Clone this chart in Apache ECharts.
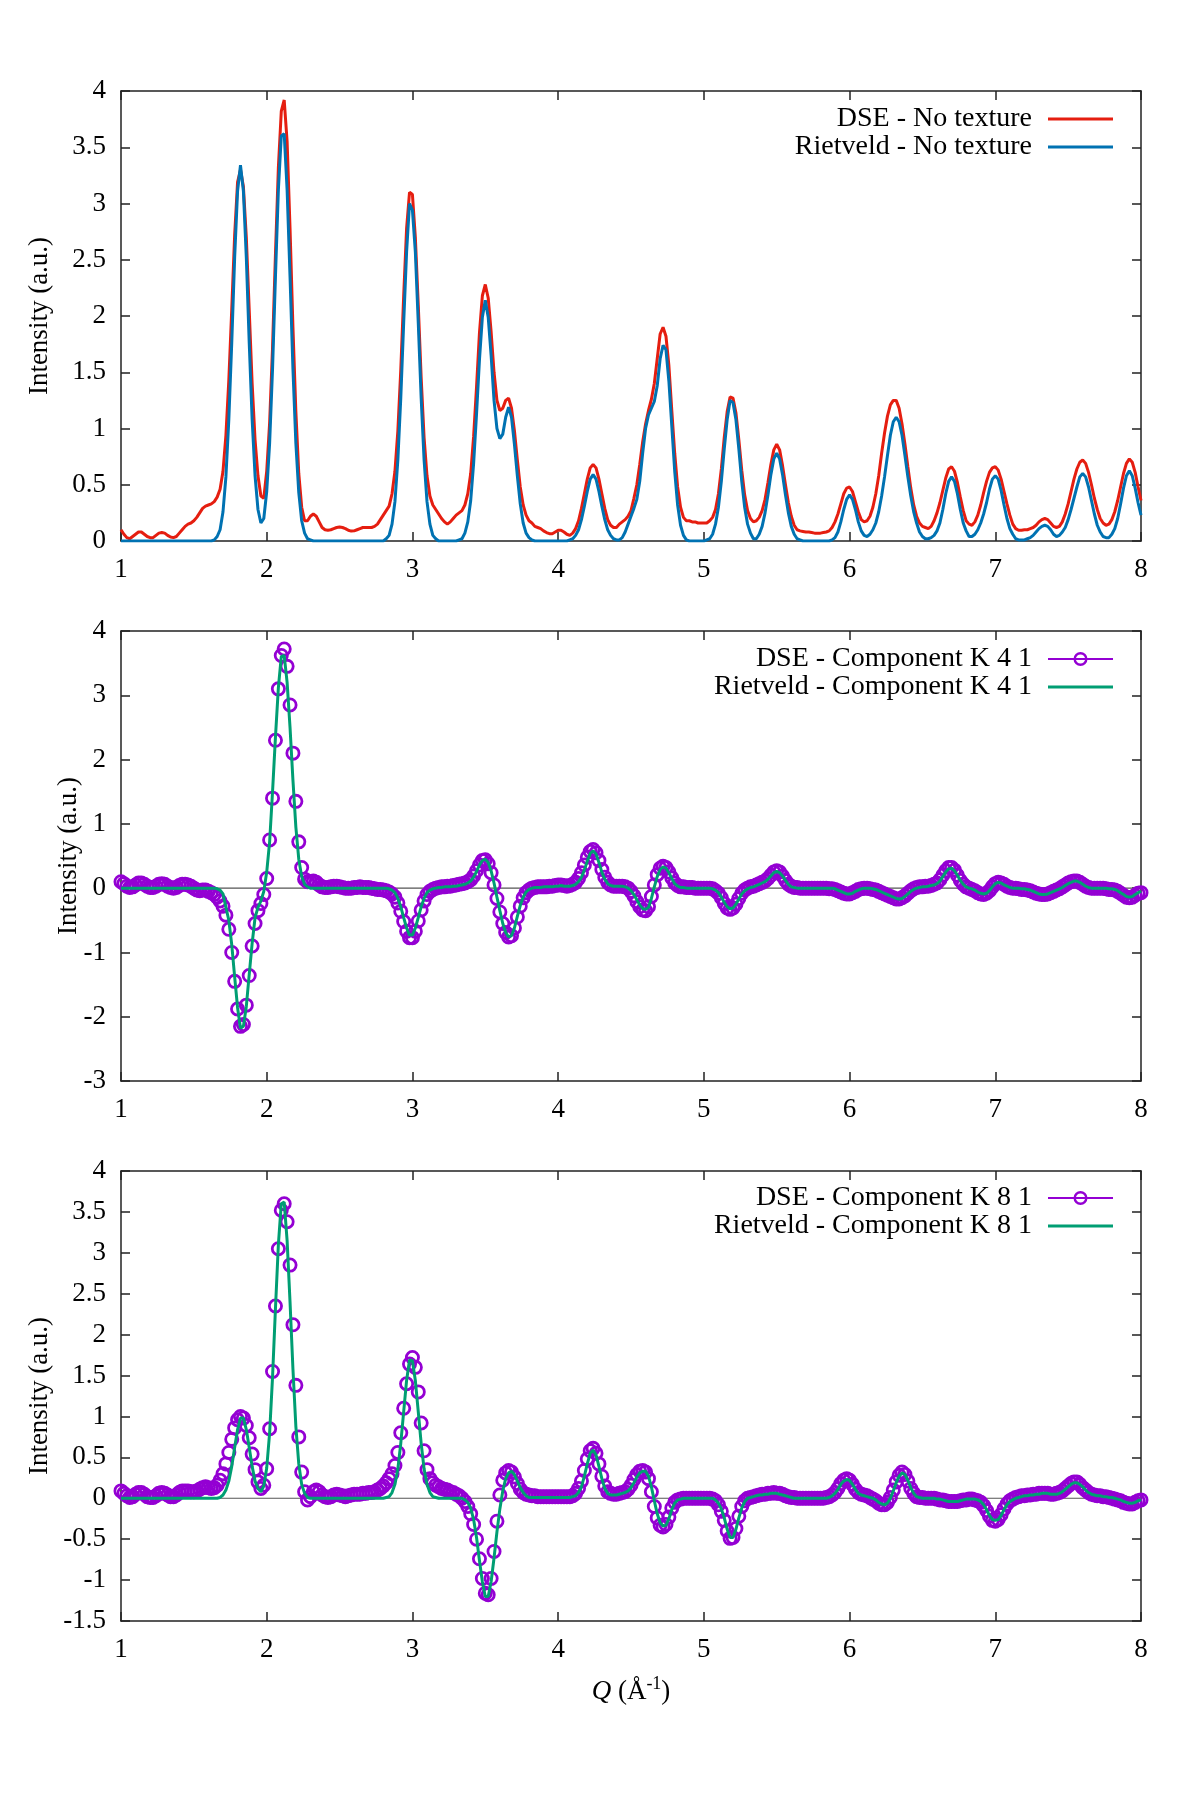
<!DOCTYPE html>
<html>
<head>
<meta charset="utf-8">
<title>DSE vs Rietveld components</title>
<script src="https://cdn.jsdelivr.net/npm/echarts@6/dist/echarts.min.js"></script>
<style>
  html, body { margin: 0; padding: 0; background: #fff; }
  #chart { width: 1200px; height: 1800px; }
</style>
</head>
<body>
<div id="chart"></div>
<script>
// Q grid: 1.00 .. 8.00 sampled every 0.02 (351 points per curve)
const qStart = 1.0;
const qStep = 0.02;

// ---- top panel: no texture ----
const dseNoTexture = [
  0.10,0.06,0.03,0.02,0.04,0.06,0.08,0.08,0.06,0.04,
  0.03,0.03,0.05,0.07,0.075,0.07,0.05,0.035,0.03,0.04,
  0.07,0.10,0.13,0.15,0.16,0.18,0.21,0.25,0.29,0.31,
  0.32,0.33,0.35,0.39,0.46,0.62,0.94,1.43,2.06,2.72,
  3.19,3.30,3.15,2.70,2.05,1.40,0.90,0.58,0.40,0.38,
  0.62,1.05,1.72,2.55,3.32,3.82,3.92,3.55,2.78,1.90,
  1.15,0.60,0.30,0.18,0.18,0.22,0.24,0.22,0.17,0.12,
  0.10,0.095,0.10,0.11,0.12,0.125,0.12,0.11,0.095,0.088,
  0.09,0.10,0.11,0.12,0.12,0.12,0.12,0.13,0.15,0.19,
  0.23,0.27,0.31,0.42,0.62,0.98,1.52,2.18,2.78,3.10,
  3.08,2.70,2.10,1.45,0.92,0.58,0.40,0.32,0.28,0.24,
  0.20,0.17,0.15,0.17,0.20,0.23,0.25,0.27,0.32,0.42,
  0.60,0.93,1.37,1.85,2.18,2.28,2.16,1.86,1.50,1.25,
  1.16,1.18,1.25,1.27,1.18,0.98,0.72,0.48,0.32,0.23,
  0.18,0.16,0.13,0.12,0.11,0.09,0.075,0.065,0.065,0.08,
  0.095,0.095,0.08,0.06,0.05,0.07,0.11,0.18,0.29,0.42,
  0.55,0.65,0.68,0.65,0.55,0.42,0.29,0.19,0.14,0.12,
  0.12,0.15,0.17,0.19,0.22,0.27,0.38,0.50,0.68,0.88,
  1.04,1.16,1.26,1.40,1.62,1.84,1.90,1.82,1.56,1.16,
  0.78,0.48,0.30,0.21,0.18,0.18,0.17,0.17,0.16,0.16,
  0.16,0.16,0.18,0.21,0.28,0.42,0.64,0.92,1.15,1.28,
  1.27,1.14,0.90,0.63,0.41,0.27,0.20,0.17,0.18,0.21,
  0.27,0.37,0.52,0.68,0.81,0.86,0.81,0.67,0.50,0.34,
  0.22,0.14,0.10,0.09,0.085,0.08,0.08,0.075,0.07,0.07,
  0.07,0.075,0.08,0.09,0.12,0.17,0.24,0.33,0.42,0.47,
  0.48,0.44,0.35,0.26,0.19,0.17,0.18,0.22,0.30,0.42,
  0.58,0.78,0.96,1.11,1.21,1.25,1.25,1.18,1.04,0.86,
  0.66,0.47,0.32,0.22,0.16,0.13,0.12,0.11,0.13,0.18,
  0.25,0.34,0.45,0.56,0.64,0.66,0.62,0.52,0.39,0.27,
  0.18,0.15,0.14,0.17,0.23,0.32,0.43,0.53,0.61,0.65,
  0.66,0.63,0.55,0.44,0.33,0.23,0.15,0.11,0.095,0.095,
  0.10,0.10,0.11,0.12,0.14,0.17,0.19,0.20,0.19,0.16,
  0.13,0.12,0.13,0.17,0.24,0.33,0.44,0.55,0.64,0.70,
  0.72,0.69,0.61,0.50,0.38,0.28,0.20,0.16,0.14,0.15,
  0.19,0.26,0.36,0.48,0.60,0.69,0.73,0.70,0.61,0.48,
  0.36
];

const rietveldNoTexture = [
  0,0,0,0,0,0,0,0,0,0,
  0,0,0,0,0,0,0,0,0,0,
  0,0,0,0,0,0,0,0,0,0,
  0,0,0.01,0.04,0.10,0.26,0.57,1.08,1.76,2.52,
  3.11,3.34,3.11,2.52,1.76,1.08,0.58,0.28,0.16,0.20,
  0.44,0.87,1.53,2.35,3.12,3.60,3.62,3.12,2.35,1.53,
  0.87,0.43,0.18,0.07,0.02,0.01,0,0,0,0,
  0,0,0,0,0,0,0,0,0,0,
  0,0,0,0,0,0,0,0,0,0,
  0,0.02,0.05,0.15,0.35,0.72,1.27,1.94,2.57,3.00,
  2.94,2.57,1.94,1.27,0.72,0.35,0.15,0.05,0.02,0,
  0,0,0,0,0,0,0.01,0.02,0.07,0.17,
  0.36,0.69,1.13,1.61,1.99,2.14,1.99,1.65,1.25,1.00,
  0.91,0.95,1.10,1.19,1.10,0.86,0.58,0.33,0.16,0.07,
  0.03,0.01,0,0,0,0,0,0,0,0,
  0,0,0,0,0.01,0.02,0.05,0.10,0.19,0.31,
  0.44,0.55,0.59,0.55,0.44,0.31,0.19,0.10,0.05,0.02,
  0.01,0.01,0.03,0.08,0.15,0.22,0.29,0.37,0.53,0.78,
  1.00,1.12,1.18,1.24,1.38,1.62,1.74,1.70,1.42,1.02,
  0.62,0.32,0.14,0.05,0.01,0,0,0,0,0,
  0,0.01,0.02,0.06,0.15,0.30,0.53,0.82,1.08,1.25,
  1.23,1.08,0.82,0.53,0.30,0.15,0.07,0.02,0.02,0.06,
  0.13,0.25,0.41,0.59,0.73,0.78,0.73,0.59,0.41,0.25,
  0.13,0.06,0.02,0.01,0,0,0,0,0,0,
  0,0,0,0,0.01,0.03,0.08,0.17,0.28,0.37,
  0.41,0.37,0.28,0.17,0.09,0.05,0.04,0.06,0.10,0.16,
  0.26,0.40,0.57,0.76,0.94,1.06,1.10,1.06,0.94,0.76,
  0.57,0.40,0.26,0.16,0.08,0.04,0.02,0.02,0.03,0.05,
  0.09,0.16,0.28,0.42,0.53,0.57,0.53,0.42,0.28,0.16,
  0.09,0.04,0.04,0.06,0.10,0.16,0.24,0.34,0.46,0.55,
  0.58,0.55,0.45,0.32,0.20,0.11,0.06,0.02,0.01,0.01,
  0.01,0.02,0.03,0.05,0.08,0.11,0.13,0.14,0.13,0.10,
  0.06,0.04,0.05,0.08,0.12,0.19,0.28,0.38,0.48,0.57,
  0.60,0.57,0.48,0.36,0.24,0.14,0.08,0.04,0.03,0.03,
  0.06,0.11,0.20,0.33,0.47,0.58,0.625,0.58,0.47,0.34,
  0.23
];

// ---- middle panel: component K 4 1 ----
const dseK41 = [
  0.10,0.07,0.03,0.01,0.02,0.05,0.08,0.08,0.06,0.03,
  0.01,0.01,0.03,0.06,0.07,0.06,0.03,0.01,0,0.01,
  0.04,0.06,0.06,0.05,0.03,0,-0.03,-0.04,-0.03,-0.03,
  -0.05,-0.07,-0.10,-0.14,-0.20,-0.28,-0.42,-0.64,-1.00,-1.45,
  -1.88,-2.15,-2.12,-1.82,-1.36,-0.90,-0.55,-0.35,-0.24,-0.10,
  0.15,0.75,1.40,2.30,3.10,3.62,3.72,3.45,2.85,2.10,
  1.35,0.72,0.32,0.14,0.10,0.10,0.11,0.09,0.05,0.02,
  0.01,0.01,0.02,0.03,0.03,0.02,0.01,0,0,0,
  0.01,0.01,0.02,0.01,0.01,0.01,0,-0.01,-0.02,-0.02,
  -0.03,-0.04,-0.06,-0.09,-0.14,-0.23,-0.36,-0.52,-0.67,-0.77,
  -0.77,-0.67,-0.51,-0.34,-0.20,-0.10,-0.05,-0.02,0,0.01,
  0.02,0.02,0.03,0.03,0.04,0.05,0.06,0.07,0.08,0.10,
  0.13,0.19,0.27,0.36,0.43,0.44,0.38,0.24,0.05,-0.16,
  -0.37,-0.55,-0.69,-0.76,-0.74,-0.62,-0.45,-0.28,-0.15,-0.07,
  -0.03,0,0.01,0.02,0.02,0.02,0.02,0.03,0.03,0.04,
  0.05,0.05,0.04,0.03,0.04,0.06,0.09,0.15,0.24,0.36,
  0.48,0.57,0.60,0.55,0.43,0.29,0.17,0.09,0.05,0.03,
  0.03,0.03,0.03,0.02,0,-0.05,-0.12,-0.21,-0.29,-0.34,
  -0.35,-0.29,-0.13,0.05,0.21,0.31,0.34,0.32,0.25,0.16,
  0.08,0.04,0.02,0.02,0.01,0.01,0.01,0,0,0,
  0,0,0,-0.01,-0.04,-0.08,-0.15,-0.24,-0.31,-0.33,
  -0.31,-0.25,-0.16,-0.08,-0.03,0,0.02,0.03,0.05,0.07,
  0.09,0.11,0.15,0.20,0.25,0.27,0.25,0.19,0.12,0.06,
  0.03,0.01,0.01,0,0,0,0,0,0,0,
  0,0,0,-0.01,-0.01,-0.02,-0.04,-0.06,-0.08,-0.09,
  -0.09,-0.07,-0.05,-0.02,-0.01,0,0,-0.01,-0.02,-0.03,
  -0.05,-0.07,-0.09,-0.11,-0.13,-0.15,-0.17,-0.17,-0.15,-0.12,
  -0.08,-0.04,-0.01,0.01,0.02,0.02,0.03,0.03,0.04,0.06,
  0.08,0.13,0.20,0.27,0.32,0.32,0.28,0.20,0.12,0.06,
  0.02,0,-0.02,-0.04,-0.07,-0.09,-0.10,-0.08,-0.04,0.02,
  0.07,0.09,0.08,0.06,0.03,0.01,0,0,-0.01,-0.02,
  -0.02,-0.03,-0.04,-0.06,-0.08,-0.09,-0.10,-0.10,-0.09,-0.07,
  -0.05,-0.03,-0.01,0.02,0.05,0.08,0.10,0.11,0.11,0.09,
  0.06,0.03,0.01,0,0,0,0,0,-0.01,-0.02,
  -0.02,-0.03,-0.05,-0.08,-0.11,-0.14,-0.15,-0.14,-0.11,-0.08,
  -0.07
];

const rietveldK41 = [
  0,0,0,0,0,0,0,0,0,0,
  0,0,0,0,0,0,0,0,0,0,
  0,0,0,0,0,0,0,0,0,0,
  0,0,0,-0.01,-0.03,-0.09,-0.30,-0.50,-0.88,-1.38,
  -1.86,-2.18,-2.15,-1.84,-1.34,-0.86,-0.46,-0.30,-0.20,-0.05,
  0.25,0.72,1.50,2.35,3.12,3.60,3.62,3.20,2.50,1.68,
  0.95,0.45,0.18,0.06,0.02,0,0,0,0,0,
  0,0,0,0,0,0,0,0,0,0,
  0,0,0,0,0,0,0,0,0,0,
  0,0,-0.01,-0.03,-0.07,-0.16,-0.29,-0.46,-0.62,-0.73,
  -0.73,-0.62,-0.46,-0.29,-0.16,-0.07,-0.03,-0.01,0,0.01,
  0.01,0.02,0.02,0.02,0.03,0.03,0.04,0.05,0.06,0.08,
  0.11,0.17,0.26,0.36,0.43,0.45,0.40,0.27,0.08,-0.14,
  -0.35,-0.55,-0.69,-0.76,-0.74,-0.62,-0.44,-0.27,-0.14,-0.06,
  -0.02,0,0.01,0.01,0.01,0.02,0.02,0.02,0.02,0.03,
  0.03,0.04,0.03,0.03,0.03,0.04,0.06,0.10,0.17,0.28,
  0.42,0.54,0.58,0.53,0.40,0.25,0.14,0.07,0.04,0.03,
  0.03,0.03,0.03,0.02,0,-0.04,-0.10,-0.18,-0.26,-0.32,
  -0.33,-0.30,-0.16,0.02,0.18,0.29,0.33,0.31,0.24,0.15,
  0.07,0.03,0.01,0.01,0,0,0,0,0,0,
  0,0,0,-0.01,-0.03,-0.07,-0.14,-0.22,-0.29,-0.32,
  -0.31,-0.25,-0.17,-0.09,-0.04,-0.01,0.01,0.02,0.04,0.06,
  0.08,0.10,0.14,0.19,0.24,0.26,0.24,0.19,0.12,0.06,
  0.02,0.01,0,0,0,0,0,0,0,0,
  0,0,0,0,0,-0.01,-0.03,-0.05,-0.07,-0.09,
  -0.09,-0.08,-0.05,-0.03,-0.01,0,0,0,-0.01,-0.02,
  -0.04,-0.06,-0.08,-0.10,-0.12,-0.14,-0.16,-0.17,-0.16,-0.13,
  -0.09,-0.05,-0.02,0,0.01,0.02,0.02,0.03,0.04,0.05,
  0.07,0.11,0.18,0.25,0.30,0.31,0.27,0.20,0.12,0.06,
  0.02,0,-0.01,-0.03,-0.06,-0.08,-0.09,-0.08,-0.04,0.02,
  0.07,0.09,0.08,0.05,0.03,0.01,0,0,0,-0.01,
  -0.01,-0.02,-0.03,-0.05,-0.07,-0.09,-0.10,-0.10,-0.09,-0.07,
  -0.05,-0.03,-0.01,0.01,0.04,0.07,0.09,0.11,0.11,0.09,
  0.06,0.03,0.01,0,0,0,0,0,0,-0.01,
  -0.01,-0.02,-0.04,-0.07,-0.10,-0.13,-0.14,-0.13,-0.10,-0.07,
  -0.05
];

// ---- bottom panel: component K 8 1 ----
const dseK81 = [
  0.09,0.06,0.03,0.01,0.02,0.05,0.07,0.07,0.05,0.02,
  0.01,0.01,0.03,0.06,0.07,0.06,0.04,0.02,0.02,0.04,
  0.07,0.09,0.09,0.09,0.08,0.08,0.09,0.11,0.13,0.14,
  0.13,0.12,0.13,0.16,0.22,0.30,0.42,0.56,0.72,0.86,
  0.96,1.00,0.98,0.89,0.74,0.54,0.35,0.20,0.12,0.16,
  0.36,0.85,1.55,2.35,3.05,3.52,3.60,3.38,2.85,2.12,
  1.38,0.75,0.32,0.08,-0.02,0.02,0.08,0.10,0.08,0.04,
  0.02,0.01,0.02,0.04,0.05,0.04,0.03,0.02,0.03,0.04,
  0.05,0.05,0.05,0.06,0.06,0.07,0.07,0.08,0.10,0.12,
  0.15,0.19,0.24,0.30,0.40,0.56,0.80,1.10,1.40,1.64,
  1.72,1.60,1.30,0.92,0.58,0.35,0.24,0.19,0.16,0.14,
  0.12,0.11,0.10,0.08,0.07,0.05,0.03,0,-0.04,-0.10,
  -0.19,-0.32,-0.50,-0.74,-0.98,-1.16,-1.18,-0.98,-0.65,-0.28,
  0.04,0.22,0.31,0.34,0.32,0.26,0.18,0.11,0.07,0.05,
  0.04,0.03,0.03,0.02,0.02,0.02,0.02,0.02,0.02,0.02,
  0.02,0.02,0.02,0.02,0.02,0.03,0.06,0.12,0.21,0.34,
  0.48,0.58,0.61,0.55,0.42,0.27,0.15,0.08,0.06,0.05,
  0.05,0.06,0.07,0.08,0.11,0.16,0.23,0.29,0.33,0.34,
  0.32,0.24,0.08,-0.10,-0.24,-0.33,-0.35,-0.32,-0.23,-0.12,
  -0.05,-0.02,-0.01,0,0,0,0,0,0,0,
  0,0,0,-0.01,-0.03,-0.08,-0.16,-0.27,-0.40,-0.49,
  -0.48,-0.37,-0.22,-0.10,-0.03,0,0.01,0.02,0.03,0.04,
  0.05,0.05,0.06,0.06,0.07,0.06,0.06,0.05,0.03,0.02,
  0.01,0.01,0,0,0,0,0,0,0,0,
  0,0,0.01,0.02,0.04,0.07,0.12,0.18,0.22,0.24,
  0.22,0.17,0.11,0.07,0.05,0.04,0.03,0.01,-0.01,-0.03,
  -0.06,-0.08,-0.08,-0.05,0.01,0.10,0.20,0.28,0.32,0.29,
  0.21,0.12,0.06,0.02,0.01,0.01,0,0,0,0,
  -0.01,-0.02,-0.02,-0.03,-0.04,-0.04,-0.04,-0.04,-0.03,-0.02,
  -0.02,-0.01,-0.01,-0.02,-0.03,-0.05,-0.09,-0.15,-0.22,-0.27,
  -0.28,-0.26,-0.20,-0.13,-0.07,-0.03,-0.01,0.01,0.02,0.03,
  0.03,0.04,0.04,0.05,0.05,0.06,0.06,0.06,0.06,0.05,
  0.05,0.06,0.07,0.09,0.12,0.15,0.18,0.20,0.20,0.17,
  0.13,0.10,0.07,0.05,0.04,0.03,0.03,0.02,0.02,0.01,
  0,-0.01,-0.02,-0.03,-0.05,-0.06,-0.07,-0.07,-0.05,-0.03,
  -0.02
];

const rietveldK81 = [
  0,0,0,0,0,0,0,0,0,0,
  0,0,0,0,0,0,0,0,0,0,
  0,0,0,0,0,0,0,0,0,0,
  0,0,0,0,0.01,0.04,0.10,0.21,0.39,0.62,
  0.84,0.98,0.98,0.84,0.62,0.39,0.21,0.12,0.08,0.15,
  0.37,0.80,1.48,2.32,3.10,3.60,3.62,3.15,2.40,1.58,
  0.88,0.42,0.17,0.06,0.01,0,0,0,0,0,
  0,0,0,0,0,0,0,0,0,0,
  0,0,0,0,0,0,0,0,0,0,
  0,0.01,0.02,0.07,0.17,0.36,0.67,1.06,1.44,1.69,
  1.68,1.44,1.06,0.67,0.36,0.17,0.07,0.02,0.01,0,
  0,0,0,0,0,0,0,0,-0.02,-0.05,
  -0.12,-0.26,-0.48,-0.76,-1.02,-1.20,-1.20,-1.02,-0.73,-0.41,
  -0.13,0.09,0.24,0.31,0.33,0.29,0.21,0.13,0.07,0.03,
  0.01,0.01,0.01,0.01,0.01,0.01,0.01,0.01,0.01,0.01,
  0.01,0.01,0.01,0.01,0.01,0.02,0.03,0.07,0.14,0.27,
  0.42,0.55,0.59,0.53,0.39,0.24,0.12,0.06,0.04,0.04,
  0.04,0.05,0.06,0.07,0.09,0.13,0.19,0.26,0.31,0.33,
  0.33,0.27,0.14,-0.03,-0.19,-0.30,-0.34,-0.33,-0.25,-0.14,
  -0.06,-0.02,-0.01,0,0,0,0,0,0,0,
  0,0,0,0,-0.02,-0.06,-0.13,-0.24,-0.38,-0.48,
  -0.48,-0.38,-0.24,-0.12,-0.04,0,0.01,0.02,0.03,0.04,
  0.04,0.05,0.05,0.06,0.06,0.06,0.05,0.04,0.03,0.02,
  0.01,0,0,0,0,0,0,0,0,0,
  0,0,0,0.01,0.03,0.06,0.11,0.17,0.21,0.23,
  0.22,0.17,0.11,0.06,0.04,0.03,0.02,0.01,0,-0.02,
  -0.05,-0.07,-0.08,-0.06,0,0.09,0.19,0.27,0.31,0.29,
  0.22,0.13,0.06,0.02,0.01,0,0,0,0,0,
  -0.01,-0.01,-0.02,-0.03,-0.04,-0.04,-0.04,-0.04,-0.03,-0.02,
  -0.01,-0.01,-0.01,-0.01,-0.02,-0.04,-0.08,-0.14,-0.21,-0.26,
  -0.27,-0.26,-0.21,-0.14,-0.08,-0.04,-0.02,0,0.01,0.02,
  0.03,0.03,0.04,0.04,0.05,0.05,0.06,0.06,0.06,0.05,
  0.05,0.05,0.06,0.08,0.11,0.14,0.17,0.19,0.19,0.17,
  0.14,0.10,0.07,0.05,0.04,0.03,0.03,0.02,0.02,0.01,
  0.01,0,-0.01,-0.02,-0.04,-0.05,-0.06,-0.06,-0.05,-0.03,
  -0.02
];

// axis ranges: [min, max, step]
const xRange = [1, 8, 1];
const yRanges = [[0, 4, 0.5], [-3, 4, 1], [-1.5, 4, 0.5]];
const zeroLine = [[1, 0], [8, 0]];
const yTitle = 'Intensity (a.u.)';

const RED = '#e51e10', BLUE = '#0072b2', PURPLE = '#9400d3', GREEN = '#009e73';
const FONT = '"Liberation Serif", "Times New Roman", serif';
const INK = '#222';

const gridTops = [91, 631, 1171];
const legendTops = [105, 645, 1184];
// horizontal centre of each y title (the middle one sits closer to its narrow tick labels)
const yTitleX = [40, 69, 40];

function toPairs(vals) {
  return vals.map((v, i) => [Math.round((qStart + i * qStep) * 100) / 100, v]);
}

// open circle drawn as a ring so overlapping markers stay see-through
const ringSymbol = 'path://M10,0A10,10 0 1,1 -10,0A10,10 0 1,1 10,0Z M6.3,0A6.3,6.3 0 1,0 -6.3,0A6.3,6.3 0 1,0 6.3,0Z';
const legendLine = 'path://M0,0H65V3H0Z';
const legendRing = 'path://M0,6H65V8H0Z M32.5,0A7,7 0 1,1 32.5,14A7,7 0 1,1 32.5,0Z M32.5,2.4A4.6,4.6 0 1,0 32.5,11.6A4.6,4.6 0 1,0 32.5,2.4Z';

const grids = [], xAxes = [], yAxes = [], titles = [];
gridTops.forEach(function (top, i) {
  grids.push({ left: 121, width: 1020, top: top, height: 450 });

  const lineCfg = { show: true, onZero: false, lineStyle: { color: INK, width: 1.5 } };
  const tickCfg = { show: true, inside: true, length: 9, lineStyle: { color: INK, width: 1.5 } };
  const labelCfg = { margin: 15, fontFamily: FONT, fontSize: 27, color: '#000' };

  const xb = {
    gridIndex: i, type: 'value', position: 'bottom',
    min: xRange[0], max: xRange[1], interval: xRange[2],
    axisLine: lineCfg, axisTick: tickCfg, axisLabel: labelCfg,
    splitLine: { show: false }
  };
  if (i === 2) {
    xb.name = '{q|Q} (Å{s|-1})';
    xb.nameLocation = 'middle';
    xb.nameGap = 54;
    xb.nameTextStyle = {
      fontFamily: FONT, fontSize: 27, color: '#000', lineHeight: 34,
      rich: {
        q: { fontFamily: FONT, fontSize: 27, fontStyle: 'italic', color: '#000', lineHeight: 34 },
        s: { fontFamily: FONT, fontSize: 18, color: '#000', verticalAlign: 'top', lineHeight: 20 }
      }
    };
  }
  xAxes.push(xb);
  xAxes.push({
    gridIndex: i, type: 'value', position: 'top',
    min: xRange[0], max: xRange[1], interval: xRange[2],
    axisLine: lineCfg, axisTick: tickCfg, axisLabel: { show: false },
    splitLine: { show: false }
  });

  const yr = yRanges[i];
  yAxes.push({
    gridIndex: i, type: 'value', position: 'left',
    min: yr[0], max: yr[1], interval: yr[2],
    axisLine: lineCfg, axisTick: tickCfg,
    axisLabel: labelCfg,
    splitLine: { show: false }
  });
  yAxes.push({
    gridIndex: i, type: 'value', position: 'right',
    min: yr[0], max: yr[1], interval: yr[2],
    axisLine: lineCfg, axisTick: tickCfg, axisLabel: { show: false },
    splitLine: { show: false }
  });

  // rotated y title, centred on the panel
  titles.push({
    type: 'text', x: yTitleX[i], y: top + 225, rotation: Math.PI / 2, silent: true,
    style: {
      text: yTitle, fontFamily: FONT, fontSize: 27, fill: '#000',
      align: 'center', verticalAlign: 'middle'
    }
  });
});

function curve(name, vals, panel, color, z) {
  return {
    name: name, type: 'line', xAxisIndex: panel * 2, yAxisIndex: panel * 2,
    data: toPairs(vals), symbol: 'none', showSymbol: false,
    color: color, lineStyle: { color: color, width: 3 },
    z: z || 2, silent: true
  };
}

function rings(name, vals, panel) {
  return {
    name: name, type: 'line', xAxisIndex: panel * 2, yAxisIndex: panel * 2,
    data: toPairs(vals), symbol: ringSymbol, symbolSize: 15, showSymbol: true,
    color: PURPLE, itemStyle: { color: PURPLE, borderWidth: 0 },
    lineStyle: { width: 0, opacity: 0 }, z: 2, silent: true
  };
}

function baseline(panel) {
  return {
    name: 'zero' + panel, type: 'line', xAxisIndex: panel * 2, yAxisIndex: panel * 2,
    data: zeroLine, symbol: 'none', lineStyle: { color: '#555', width: 1.2 },
    z: 1, silent: true
  };
}

function legendFor(panel, items) {
  return {
    orient: 'vertical', align: 'right', right: 87, top: legendTops[panel],
    itemWidth: 65, itemHeight: 14, itemGap: 0, padding: 0, selectedMode: false,
    textStyle: { fontFamily: FONT, fontSize: 28, color: '#000', lineHeight: 28, padding: [0, 11, 0, 0] },
    data: items.map(function (it) {
      return { name: it[0], icon: it[1], itemStyle: { color: it[2], borderWidth: 0 } };
    })
  };
}

const lens = { dseNoTexture, rietveldNoTexture, dseK41, rietveldK41, dseK81, rietveldK81 };
const bad = Object.keys(lens).filter(function (k) { return lens[k].length !== 351; })
  .map(function (k) { return k + ':' + lens[k].length; });
if (bad.length) {
  titles.push({ type: 'text', left: 5, top: 5, style: { text: 'len ' + bad.join(' '), fill: 'red', fontSize: 14 } });
}

const chart = echarts.init(document.getElementById('chart'), null, { renderer: 'canvas' });
chart.setOption({
  animation: false,
  backgroundColor: '#fff',
  grid: grids,
  xAxis: xAxes,
  yAxis: yAxes,
  legend: [
    legendFor(0, [['DSE - No texture', legendLine, RED], ['Rietveld - No texture', legendLine, BLUE]]),
    legendFor(1, [['DSE - Component K 4 1', legendRing, PURPLE], ['Rietveld - Component K 4 1', legendLine, GREEN]]),
    legendFor(2, [['DSE - Component K 8 1', legendRing, PURPLE], ['Rietveld - Component K 8 1', legendLine, GREEN]])
  ],
  graphic: titles,
  series: [
    curve('DSE - No texture', dseNoTexture, 0, RED),
    curve('Rietveld - No texture', rietveldNoTexture, 0, BLUE),
    baseline(1),
    rings('DSE - Component K 4 1', dseK41, 1),
    curve('Rietveld - Component K 4 1', rietveldK41, 1, GREEN, 3),
    baseline(2),
    rings('DSE - Component K 8 1', dseK81, 2),
    curve('Rietveld - Component K 8 1', rietveldK81, 2, GREEN, 3)
  ]
});
</script>
</body>
</html>
